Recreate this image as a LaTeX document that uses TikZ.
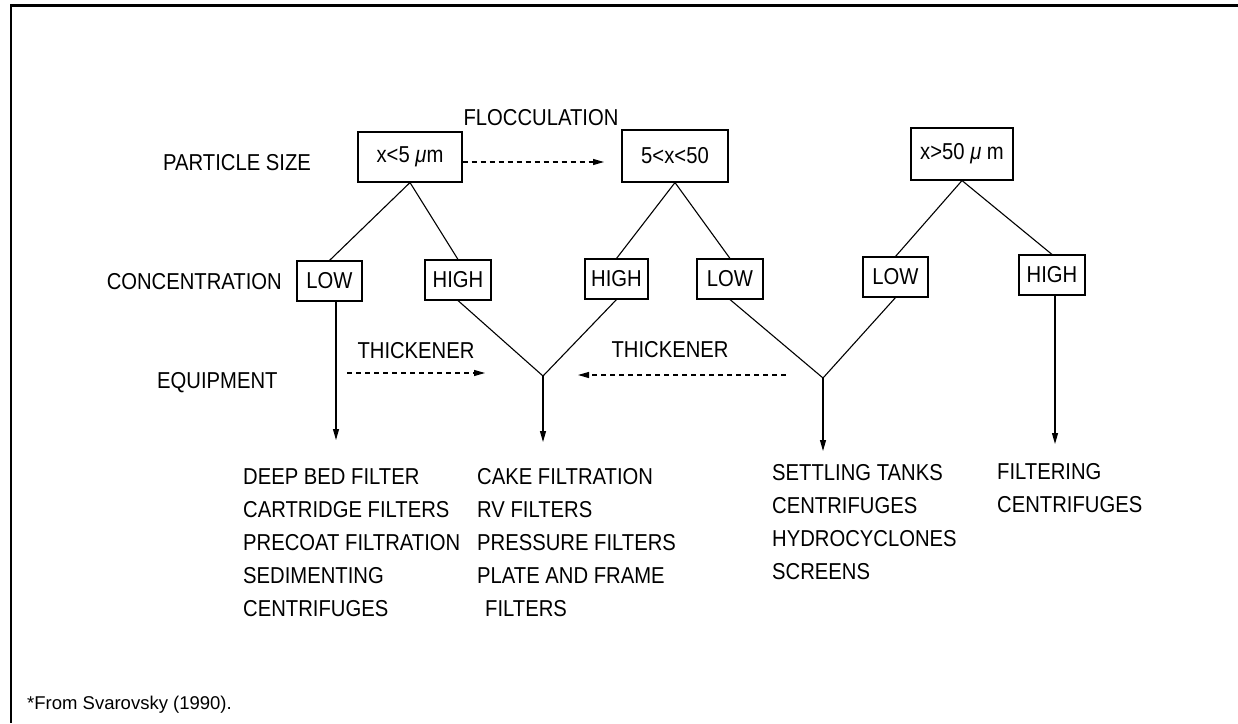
\documentclass[tikz,border=0pt]{standalone}
\usepackage{fontspec}
\setmainfont{Liberation Sans}
\newfontfamily\dgfont[FakeStretch=0.88]{Liberation Sans}
\usetikzlibrary{arrows.meta}
\newcommand\dgsize{\dgfont\fontsize{23}{33}\selectfont}
\begin{document}
\begin{tikzpicture}[x=1pt,y=-1pt,
  lbl/.style={inner sep=0pt, font=\dgsize},
  col/.style={inner sep=0pt, font=\dgsize, align=left, anchor=north west},
  topbox/.style={draw, line width=1.1pt, inner sep=0pt, minimum width=104pt, minimum height=50pt, font=\dgsize},
  cbox/.style={draw, line width=1.1pt, inner sep=0pt, minimum width=65pt, minimum height=40pt, font=\dgsize},
  ln/.style={line width=1.1pt},
  arr/.style={ln, -{Triangle[length=11pt,width=6pt]}},
  darr/.style={ln, dash pattern=on 5pt off 4pt, -{Triangle[length=11pt,width=6pt]}}
]
\useasboundingbox (0,0) rectangle (1238,723);
% frame
\draw[line width=2.5pt] (1238,5.5) -- (11,5.5) -- (11,723);

% row labels
\node[lbl] (flocc) at (541,118) {FLOCCULATION};
\node[lbl, anchor=west] (psize) at (163,163) {PARTICLE SIZE};
\node[lbl, anchor=east] (conc) at (282,282) {CONCENTRATION};
\node[lbl, anchor=west] (equip) at (157,383) {EQUIPMENT};

% particle size boxes
\node[topbox] (top1) at (410,157) {x<5 \textit{μ}m};
\node[topbox, minimum width=106pt, minimum height=52pt] (top2) at (675,156) {5<x<50};
\node[topbox, minimum width=102pt, minimum height=52pt] (top3) at (962,154) {x>50 \textit{μ} m};

% concentration boxes
\node[cbox] (low1) at (329.5,281) {LOW};
\node[cbox, minimum width=66pt] (high1) at (458,280) {HIGH};
\node[cbox, minimum width=63pt] (high2) at (616.5,279) {HIGH};
\node[cbox, minimum width=66pt] (low2) at (730,279) {LOW};
\node[cbox] (low3) at (895.5,277) {LOW};
\node[cbox, minimum width=66pt] (high3) at (1052,275) {HIGH};

% tree connectors
\draw[ln] (top1.south) -- (low1.north);
\draw[ln] (top1.south) -- (high1.north);
\draw[ln] (top2.south) -- (high2.north);
\draw[ln] (top2.south) -- (low2.north);
\draw[ln] (top3.south) -- (low3.north);
\draw[ln] (top3.south) -- (high3.north);

% junctions and ends
\coordinate (j1) at (543,376);
\coordinate (j2) at (823,378);
\coordinate (e1) at (336,440);
\coordinate (e2) at (543,442);
\coordinate (e3) at (823,451);
\coordinate (e4) at (1055,444);

\draw[ln] (high1.south) -- (j1) -- (high2.south);
\draw[ln] (low2.south) -- (j2) -- (low3.south);
\draw[arr] (low1.south -| e1) -- (e1);
\draw[arr] (j1) -- (e2);
\draw[arr] (j2) -- (e3);
\draw[arr] (high3.south -| e4) -- (e4);

% flocculation arrow
\coordinate (f2) at (604,162);
\draw[darr] (top1.east |- f2) -- (f2);

% thickener arrows
\node[lbl] (thick1) at (416,351) {THICKENER};
\node[lbl] (thick2) at (670,350) {THICKENER};
\coordinate (t1a) at (347,373);
\coordinate (t1b) at (485,373);
\coordinate (t2a) at (786,375);
\coordinate (t2b) at (578,375);
\draw[darr] (t1a) -- (t1b);
\draw[darr] (t2a) -- (t2b);

% equipment lists
\node[col] (eqa) at (243,468) {DEEP BED FILTER\\CARTRIDGE FILTERS\\PRECOAT FILTRATION\\SEDIMENTING\\CENTRIFUGES};
\node[col] (eqb) at (477,468) {CAKE FILTRATION\\RV FILTERS\\PRESSURE FILTERS\\PLATE AND FRAME\\\hspace{8pt}FILTERS};
\node[col] (eqc) at (772,464) {SETTLING TANKS\\CENTRIFUGES\\HYDROCYCLONES\\SCREENS};
\node[col] (eqd) at (997,463) {FILTERING\\CENTRIFUGES};

% footnote
\node[inner sep=0pt, anchor=west, font=\fontsize{18.5}{22}\selectfont] (foot) at (27,705) {*From Svarovsky (1990).};
\end{tikzpicture}
\end{document}
